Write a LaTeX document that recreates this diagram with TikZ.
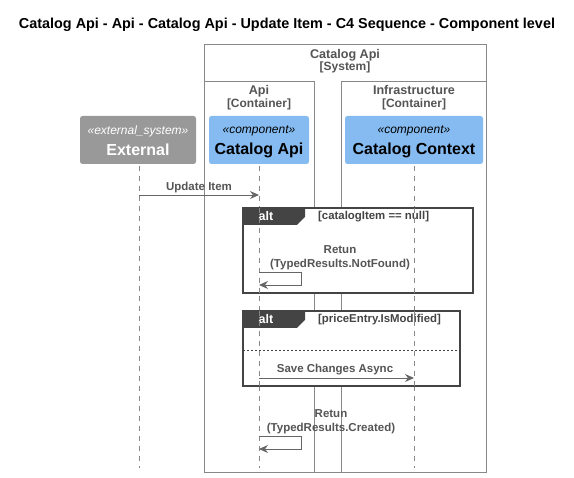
\documentclass[tikz,border=0pt]{standalone}
\usepackage{fontspec}
\setmainfont{Liberation Sans}
\usetikzlibrary{arrows.meta}
\definecolor{ext}{HTML}{999999}
\definecolor{comp}{HTML}{85BBF0}
\definecolor{frame}{HTML}{888888}
\definecolor{lbl}{HTML}{555555}
\definecolor{altdark}{HTML}{444444}
\tikzset{
  boundary/.style={draw=frame, line width=0.8pt},
  bhead/.style={font=\fontsize{12.6}{13.5}\selectfont\bfseries, text=lbl, align=center, inner sep=0pt},
  participant/.style={rounded corners=2.5pt, draw=none},
  stereo/.style={font=\fontsize{12}{13}\selectfont\itshape, inner sep=0pt},
  pname/.style={font=\fontsize{16}{17}\selectfont\bfseries, inner sep=0pt},
  lifeline/.style={draw=frame, dash pattern=on 5pt off 5pt, line width=0.6pt},
  msg/.style={draw=lbl!90, line width=0.9pt, -{Stealth[length=9pt,width=8pt,inset=3pt]}},
  msglabel/.style={font=\fontsize{11.5}{14}\selectfont\bfseries, text=lbl, align=center, inner sep=0pt},
  altframe/.style={draw=altdark, line width=1.2pt},
  altcond/.style={font=\fontsize{11.4}{12}\selectfont\bfseries, text=altdark, inner sep=0pt, anchor=west},
}
\begin{document}
\begin{tikzpicture}[x=1pt,y=-1pt]
\useasboundingbox (0,0) rectangle (574,478);
\fill[white] (0,0) rectangle (574,478);

% title
\node[font=\fontsize{14.4}{15}\selectfont\bfseries, inner sep=0pt] (title) at (287,24.5) {Catalog Api - Api - Catalog Api - Update Item - C4 Sequence - Component level};

% system and container boundaries
\draw[boundary] (204,44) rectangle (486,472);
\node[bhead] (sys) at (345,61) {Catalog Api\\[-1pt]{\fontsize{12}{13}\selectfont[System]}};
\draw[boundary] (204,81) rectangle (314,472);
\node[bhead] (apic) at (259,97.5) {Api\\[-1pt]{\fontsize{12}{13}\selectfont[Container]}};
\draw[boundary] (341,81) rectangle (486,472);
\node[bhead] (infc) at (414,97.5) {Infrastructure\\[-1pt]{\fontsize{12}{13}\selectfont[Container]}};

% participants
\fill[participant, fill=ext] (80,116) rectangle (196,164);
\node[stereo, text=white] (extst) at (138,131) {«external\_system»};
\node[pname, text=white] (extname) at (138,150) {External};
\fill[participant, fill=comp] (209,116) rectangle (309,164);
\node[stereo] (apist) at (259,131) {«component»};
\node[pname] (apiname) at (259,150) {Catalog Api};
\fill[participant, fill=comp] (345,116) rectangle (483,164);
\node[stereo] (ctxst) at (414,131) {«component»};
\node[pname] (ctxname) at (414,150) {Catalog Context};

% lifelines
\coordinate (extT) at (139,166); \coordinate (extB) at (139,468);
\coordinate (apiT) at (259,166); \coordinate (apiB) at (259,468);
\coordinate (ctxT) at (414,166); \coordinate (ctxB) at (414,468);
\draw[lifeline] (extT) -- (extB);
\draw[lifeline] (apiT) -- (apiB);
\draw[lifeline] (ctxT) -- (ctxB);

% Update Item
\coordinate (m1s) at (139,195); \coordinate (m1e) at (259,195);
\draw[msg] (m1s) -- (m1e);
\node[msglabel] (m1l) at (199,187.5) {Update Item};

% alt 1
\draw[altframe, fill=white] (243,208) rectangle (473,293);
\fill[altdark] (243,208) -- (305,208) -- (305,217) -- (297,225) -- (243,225) -- cycle;
\node[font=\fontsize{12.5}{13}\selectfont\bfseries, text=white, inner sep=0pt] (alt1) at (266,216.5) {alt};
\node[altcond] (c1) at (318,216.5) {[catalogItem == null]};
\node[msglabel] (r1) at (340,257.5) {Retun\\(TypedResults.NotFound)};
\coordinate (s1a) at (259,272); \coordinate (s1b) at (301,272);
\coordinate (s1c) at (301,285); \coordinate (s1d) at (259,285);
\draw[lifeline] (259,208) -- (259,293);
\draw[lifeline] (414,208) -- (414,293);
\draw[msg] (s1a) -- (s1b) -- (s1c) -- (s1d);

% alt 2
\draw[altframe, fill=white] (243,311) rectangle (460,386);
\fill[altdark] (243,311) -- (305,311) -- (305,320) -- (297,328) -- (243,328) -- cycle;
\node[font=\fontsize{12.5}{13}\selectfont\bfseries, text=white, inner sep=0pt] (alt2) at (266,319.5) {alt};
\node[altcond] (c2) at (318,319.5) {[priceEntry.IsModified]};
\draw[lifeline] (259,311) -- (259,386);
\draw[lifeline] (414,311) -- (414,386);
\draw[altdark, dash pattern=on 2pt off 2pt, line width=0.7pt] (243,350) -- (460,350);
\coordinate (m2s) at (259,378); \coordinate (m2e) at (414,378);
\draw[msg] (m2s) -- (m2e);
\node[msglabel] (m2l) at (335,369.5) {Save Changes Async};

% final return
\node[msglabel] (r2) at (331,421.5) {Retun\\(TypedResults.Created)};
\coordinate (s2a) at (259,436); \coordinate (s2b) at (301,436);
\coordinate (s2c) at (301,449); \coordinate (s2d) at (259,449);
\draw[msg] (s2a) -- (s2b) -- (s2c) -- (s2d);
\end{tikzpicture}
\end{document}
